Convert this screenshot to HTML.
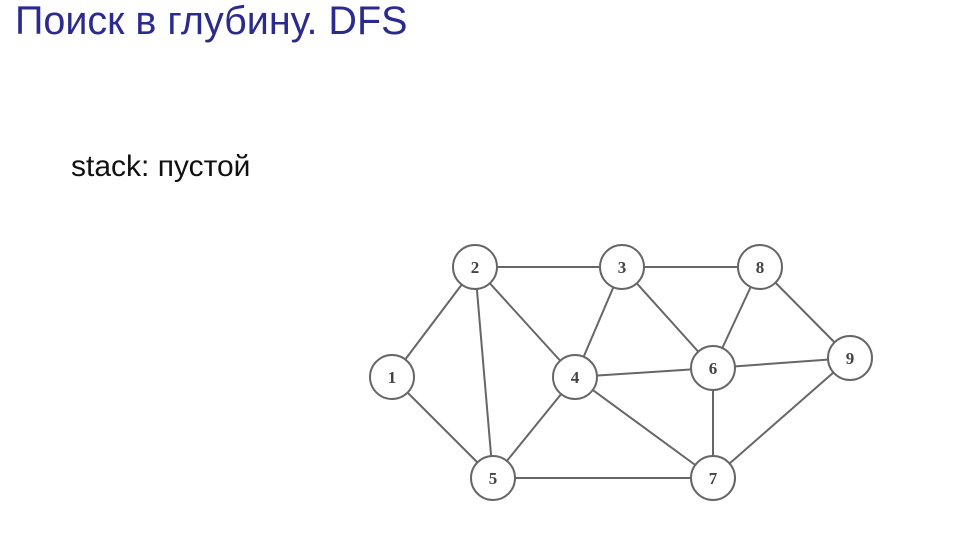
<!DOCTYPE html>
<html><head><meta charset="utf-8"><style>
body{margin:0;width:968px;height:538px;background:#fff;overflow:hidden;position:relative;font-family:"Liberation Sans","Noto Sans CJK SC",sans-serif}
#title{position:absolute;left:15px;top:-1px;font-size:39.5px;color:#2b2b8f;white-space:nowrap}
#stack{position:absolute;left:71px;top:150px;font-size:30px;color:#111;white-space:nowrap}
svg{position:absolute;left:0;top:0}
</style></head><body>
<div id="title">Поиск в глубину. DFS</div>
<div id="stack">stack: пустой</div>
<svg id="g" width="968" height="538"></svg>
<script>
const nodeIds=["1","2","3","4","5","6","7","8","9"];
const nodeX=[392,475,622,575,493,713,713,760,850];
const nodeY=[377,267,267,377,478,368,478,267,358];
const edges=[["1","2"],["1","5"],["2","3"],["2","4"],["2","5"],["3","8"],["3","4"],["3","6"],["4","6"],["4","5"],["4","7"],["5","7"],["6","8"],["6","9"],["6","7"],["8","9"],["9","7"]];
const R=22,NS="http://www.w3.org/2000/svg",svg=document.getElementById('g');
const pos=id=>{const i=nodeIds.indexOf(id);return [nodeX[i],nodeY[i]];};
edges.forEach(([a,b])=>{
 const [x1,y1]=pos(a),[x2,y2]=pos(b);
 const l=document.createElementNS(NS,'line');
 l.setAttribute('x1',x1);l.setAttribute('y1',y1);l.setAttribute('x2',x2);l.setAttribute('y2',y2);
 l.setAttribute('stroke','#666');l.setAttribute('stroke-width','2');
 
 
 svg.appendChild(l);
});
nodeIds.forEach(id=>{
 const [x,y]=pos(id);
 const c=document.createElementNS(NS,'circle');
 c.setAttribute('cx',x);c.setAttribute('cy',y);c.setAttribute('r',R);
 c.setAttribute('fill','#fff');c.setAttribute('stroke','#666');c.setAttribute('stroke-width','2');
 
 
 svg.appendChild(c);
 const t=document.createElementNS(NS,'text');
 t.setAttribute('x',x);t.setAttribute('y',y+6);t.setAttribute('text-anchor','middle');
 t.setAttribute('font-family','Liberation Serif, serif');t.setAttribute('font-size','17');t.setAttribute('font-weight','bold');t.setAttribute('fill','#444');
 t.textContent=id;
 
 
 svg.appendChild(t);
});
</script>
</body></html>
